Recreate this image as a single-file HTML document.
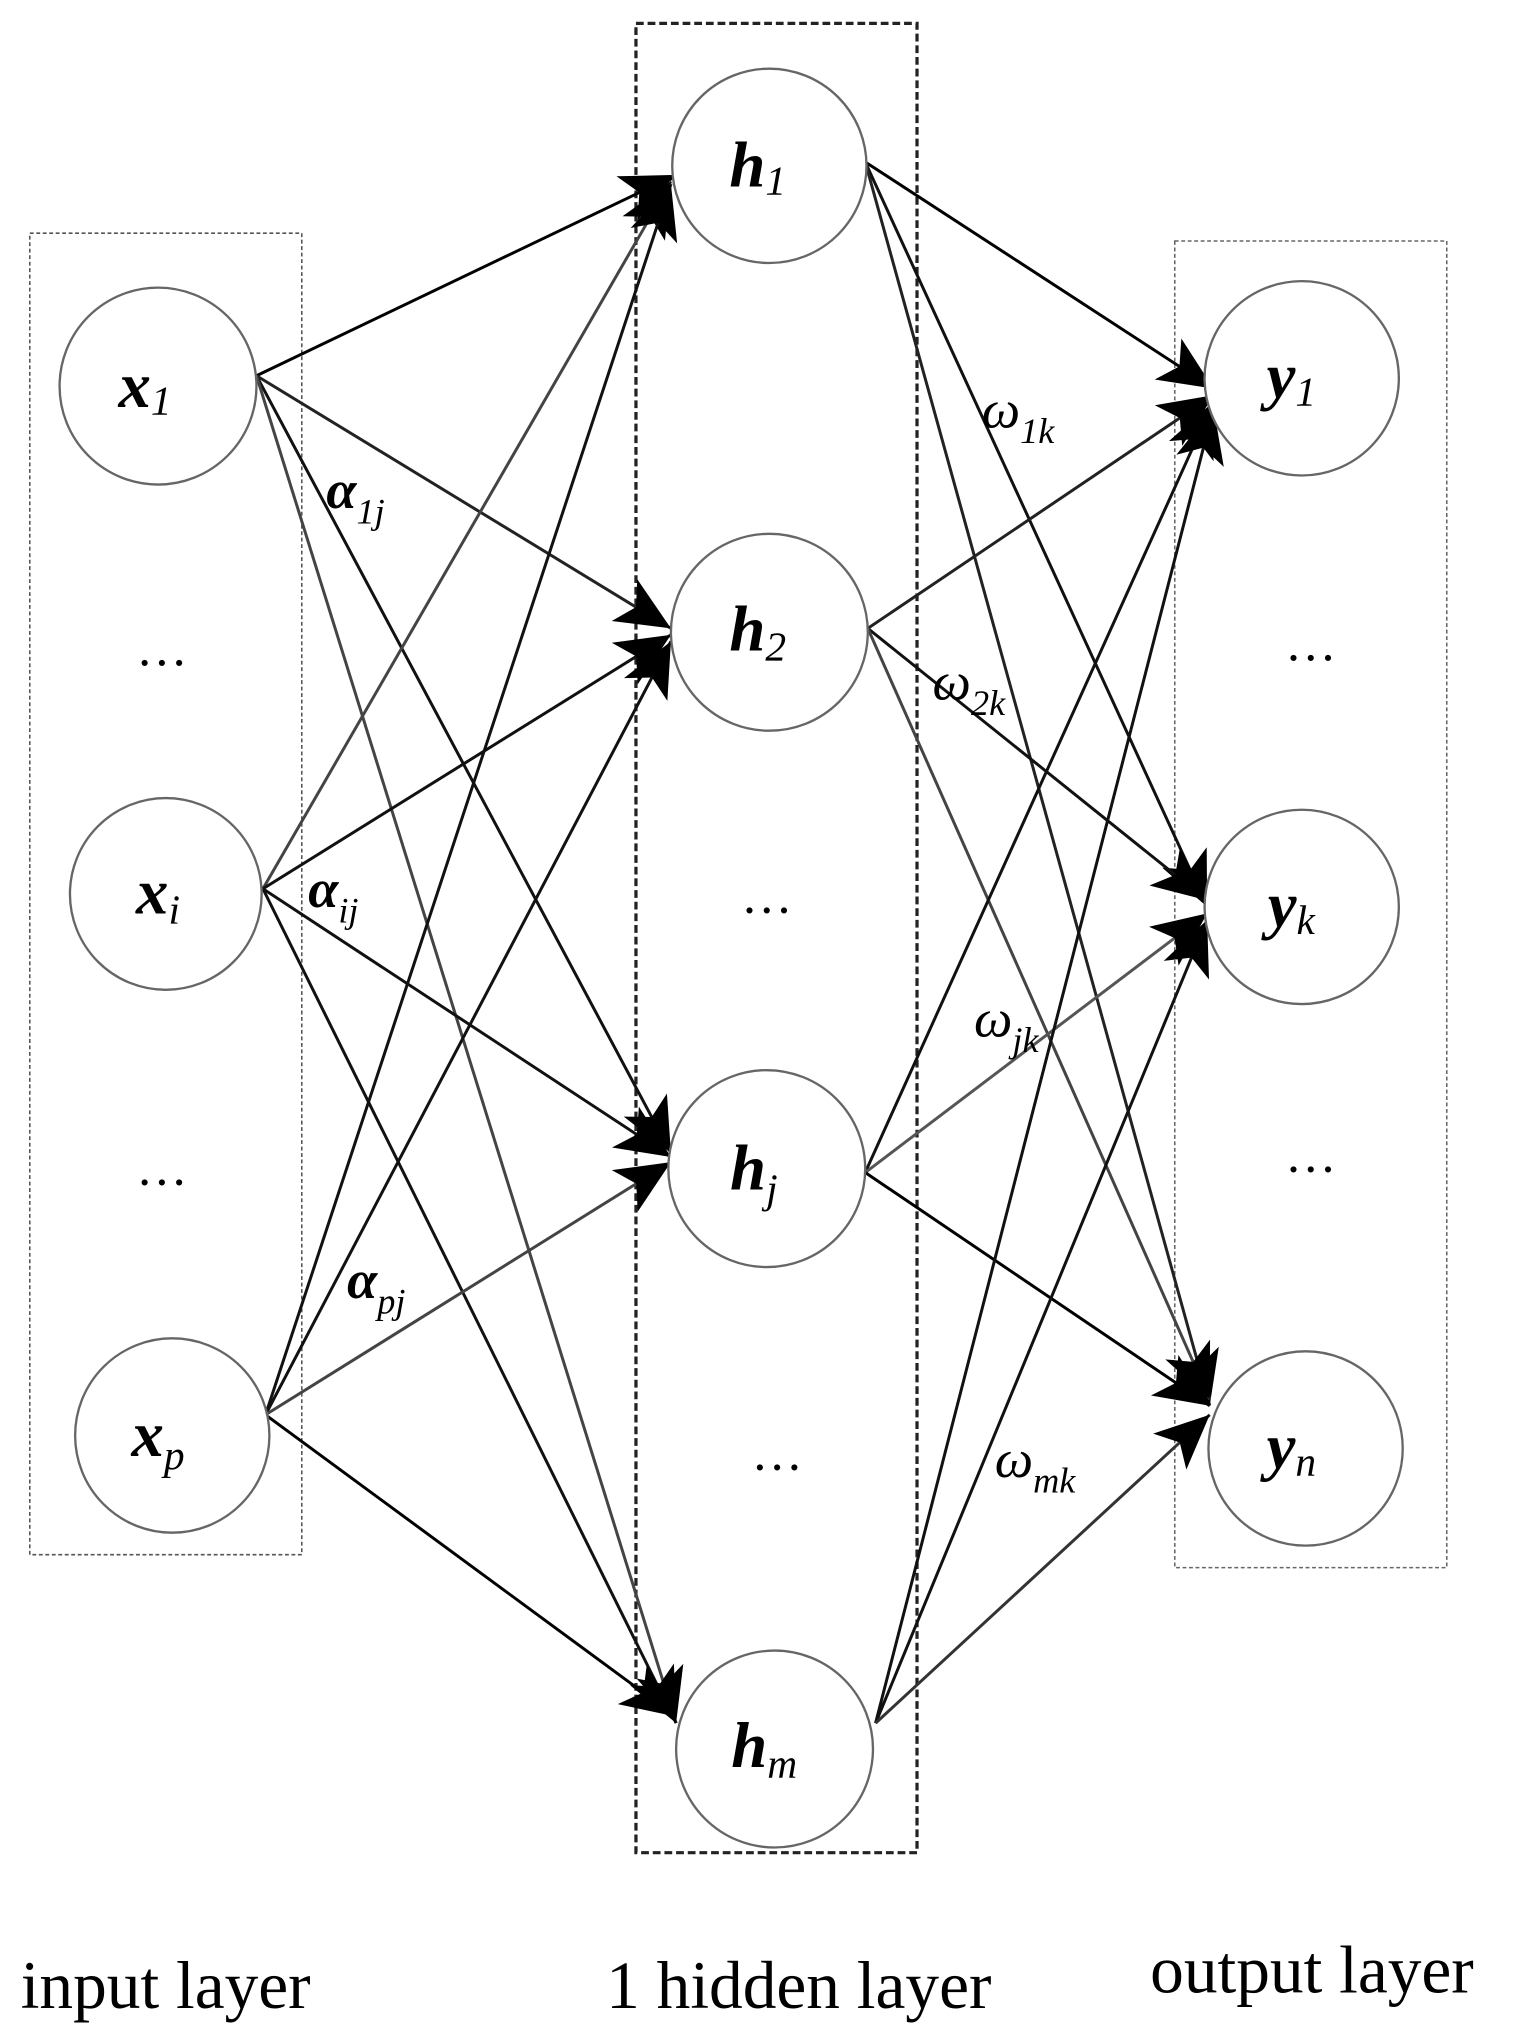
<!DOCTYPE html>
<html><head><meta charset="utf-8"><style>
html,body{margin:0;padding:0;background:#fff;}
svg{display:block;}
text{font-family:"Liberation Serif",serif;}
</style></head><body>
<svg width="1518" height="2025" viewBox="0 0 1172 1563" preserveAspectRatio="none" xmlns="http://www.w3.org/2000/svg">
<defs>
<marker id="b" viewBox="0 0 10 10" refX="10" refY="5" markerWidth="42" markerHeight="42" markerUnits="userSpaceOnUse" orient="auto">
<path d="M0,0.5 L10,5 L0,9.5 L2.5,5 z" fill="#000"/>
</marker>
</defs>
<rect x="23" y="180" width="210" height="1020" fill="none" stroke="#555" stroke-width="1.2" stroke-dasharray="3,2"/>
<rect x="491" y="18" width="217" height="1412" fill="none" stroke="#222" stroke-width="2.5" stroke-dasharray="6,3"/>
<rect x="907" y="186" width="210" height="1024" fill="none" stroke="#666" stroke-width="1.2" stroke-dasharray="3,2"/>

<g fill="none" stroke-width="2.3" marker-end="url(#b)">
<line x1="198" y1="290" x2="522" y2="135" stroke="#000"/>
<line x1="198" y1="290" x2="518" y2="485" stroke="#222"/>
<line x1="198" y1="290" x2="518" y2="890" stroke="#111"/>
<line x1="198" y1="290" x2="522" y2="1330" stroke="#444"/>
<line x1="203" y1="686" x2="518" y2="140" stroke="#444"/>
<line x1="203" y1="686" x2="518" y2="490" stroke="#111"/>
<line x1="203" y1="686" x2="518" y2="893" stroke="#111"/>
<line x1="203" y1="686" x2="522" y2="1330" stroke="#111"/>
<line x1="205" y1="1092" x2="518" y2="142" stroke="#111"/>
<line x1="205" y1="1092" x2="518" y2="495" stroke="#111"/>
<line x1="205" y1="1092" x2="518" y2="897" stroke="#444"/>
<line x1="205" y1="1092" x2="522" y2="1325" stroke="#000"/>
<line x1="668" y1="125" x2="937" y2="300" stroke="#000"/>
<line x1="668" y1="125" x2="932" y2="700" stroke="#111"/>
<line x1="668" y1="125" x2="934" y2="1085" stroke="#222"/>
<line x1="670" y1="485" x2="937" y2="305" stroke="#222"/>
<line x1="670" y1="485" x2="932" y2="695" stroke="#111"/>
<line x1="670" y1="485" x2="934" y2="1080" stroke="#444"/>
<line x1="668" y1="905" x2="937" y2="310" stroke="#111"/>
<line x1="668" y1="905" x2="932" y2="705" stroke="#555"/>
<line x1="668" y1="905" x2="934" y2="1085" stroke="#000"/>
<line x1="676" y1="1330" x2="937" y2="315" stroke="#111"/>
<line x1="676" y1="1330" x2="932" y2="710" stroke="#111"/>
<line x1="676" y1="1330" x2="934" y2="1092" stroke="#333"/>
</g>

<g fill="#fff" stroke="#666" stroke-width="1.8">
<circle cx="122" cy="298" r="76"/>
<circle cx="128" cy="690" r="74"/>
<circle cx="133" cy="1108" r="75"/>
<circle cx="594" cy="128" r="75"/>
<circle cx="594" cy="488" r="76"/>
<circle cx="592" cy="902" r="76"/>
<circle cx="598" cy="1350" r="76"/>
<circle cx="1005" cy="292" r="75"/>
<circle cx="1005" cy="700" r="75"/>
<circle cx="1008" cy="1118" r="75"/>
</g>

<g font-style="italic" font-weight="bold" font-size="50" text-anchor="middle" fill="#000">
<text x="112" y="314">x<tspan font-size="32" font-weight="normal" dy="6">1</tspan></text>
<text x="122" y="705">x<tspan font-size="32" font-weight="normal" dy="8">i</tspan></text>
<text x="122" y="1124">x<tspan font-size="32" font-weight="normal" dy="10">p</tspan></text>
<text x="585" y="144">h<tspan font-size="32" font-weight="normal" dy="6">1</tspan></text>
<text x="585" y="502">h<tspan font-size="32" font-weight="normal" dy="8">2</tspan></text>
<text x="582" y="918">h<tspan font-size="32" font-weight="normal" dy="10">j</tspan></text>
<text x="590" y="1364">h<tspan font-size="32" font-weight="normal" dy="8">m</tspan></text>
<text x="997" y="307">y<tspan font-size="32" font-weight="normal" dy="6">1</tspan></text>
<text x="997" y="715">y<tspan font-size="32" font-weight="normal" dy="6">k</tspan></text>
<text x="997" y="1133">y<tspan font-size="32" font-weight="normal" dy="6">n</tspan></text>
</g>

<g font-style="italic" font-size="42" fill="#000">
<text x="252" y="392" font-weight="bold">α<tspan font-size="28" font-weight="normal" dy="12">1j</tspan></text>
<text x="238" y="700" font-weight="bold">α<tspan font-size="28" font-weight="normal" dy="12">ij</tspan></text>
<text x="268" y="1002" font-weight="bold">α<tspan font-size="28" font-weight="normal" dy="12">pj</tspan></text>
<text x="758" y="330">ω<tspan font-size="28" dy="12">1k</tspan></text>
<text x="720" y="540">ω<tspan font-size="28" dy="12">2k</tspan></text>
<text x="752" y="800">ω<tspan font-size="28" dy="12">jk</tspan></text>
<text x="768" y="1140">ω<tspan font-size="28" dy="12">mk</tspan></text>
</g>

<g font-size="40" text-anchor="middle" fill="#000">
<text x="125" y="525">···</text>
<text x="125" y="926">···</text>
<text x="592" y="716">···</text>
<text x="600" y="1146">···</text>
<text x="1012" y="521">···</text>
<text x="1012" y="916">···</text>
</g>

<g font-size="52" fill="#000">
<text x="16" y="1550">input layer</text>
<text x="468" y="1550">1 hidden layer</text>
<text x="888" y="1538">output layer</text>
</g>
</svg>
</body></html>
